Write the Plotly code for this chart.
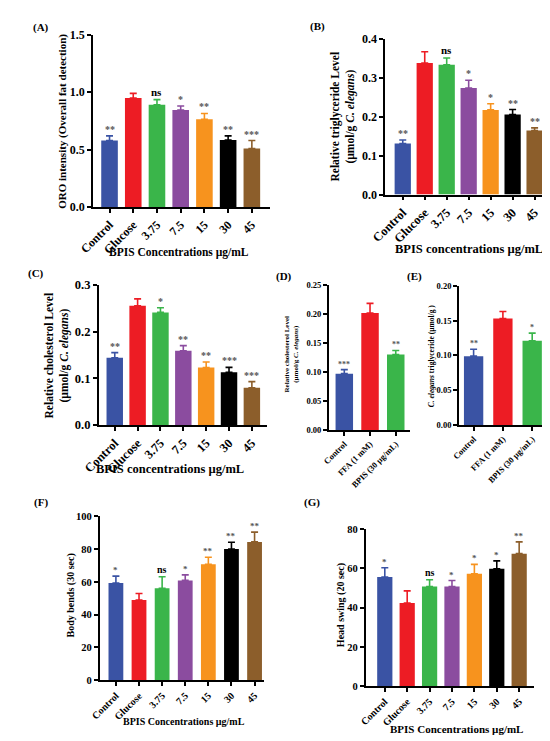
import plotly.graph_objects as go

# Data
cats7 = ["Control", "Glucose", "3.75", "7.5", "15", "30", "45"]
cats3 = ["Control", "FFA (1 mM)", "BPIS (30 µg/mL)"]
colors7 = ["#3a53a4", "#ed1c24", "#3ab54a", "#8b4c9f", "#f7931e", "#000000", "#8c5e2b"]
colors3 = ["#3a53a4", "#ed1c24", "#3ab54a"]

a_mean = [0.58, 0.95, 0.89, 0.845, 0.765, 0.585, 0.51]
a_err = [0.04, 0.04, 0.045, 0.035, 0.05, 0.035, 0.07]
a_sig = ["**", "", "ns", "*", "**", "**", "***"]

b_mean = [0.131, 0.337, 0.333, 0.273, 0.217, 0.205, 0.164]
b_err = [0.009, 0.029, 0.017, 0.02, 0.016, 0.013, 0.007]
b_sig = ["**", "", "ns", "*", "*", "**", "**"]

c_mean = [0.144, 0.255, 0.241, 0.159, 0.123, 0.113, 0.080]
c_err = [0.011, 0.015, 0.010, 0.011, 0.012, 0.0105, 0.013]
c_sig = ["**", "", "*", "**", "**", "***", "***"]

d_mean = [0.097, 0.2015, 0.130]
d_err = [0.007, 0.0165, 0.007]
d_sig = ["***", "", "**"]

e_mean = [0.099, 0.153, 0.121]
e_err = [0.010, 0.010, 0.011]
e_sig = ["**", "", "*"]

f_mean = [59.3, 48.9, 56.1, 60.9, 70.7, 80.0, 84.4]
f_err = [4.2, 4.0, 7.0, 3.4, 4.3, 4.2, 6.0]
f_sig = ["*", "", "ns", "*", "**", "**", "**"]

g_mean = [55.6, 42.3, 50.7, 50.7, 57.2, 59.8, 67.5]
g_err = [4.7, 6.2, 3.5, 3.1, 4.8, 4.0, 6.0]
g_sig = ["*", "", "ns", "*", "*", "*", "**"]

W, H = 550, 741
FONT = "Liberation Serif"


def px(x, y):
    return x / W, 1 - y / H


# panel setup: data, pixel box (x0, x1, ytop, ybottom), axis range etc.
panels = [
    dict(cats=cats7, mean=a_mean, err=a_err, sig=a_sig, colors=colors7,
         box=(71, 253, 20, 196), yr=[0, 1.5], dtick=0.5, fmt=".1f",
         xr=[-0.7, 6.75], bw=0.7, tfs=12, xfs=12, sfs=10),
    dict(cats=cats7, mean=b_mean, err=b_err, sig=b_sig, colors=colors7,
         box=(372, 544, 24, 183), yr=[0, 0.4], dtick=0.1, fmt=".1f",
         xr=[-0.8, 6.8], bw=0.74, tfs=12, xfs=12.5, sfs=10),
    dict(cats=cats7, mean=c_mean, err=c_err, sig=c_sig, colors=colors7,
         box=(77, 250, 275, 418), yr=[0, 0.3], dtick=0.1, fmt=".1f",
         xr=[-0.7, 6.65], bw=0.72, tfs=12.5, xfs=12.5, sfs=10),
    dict(cats=cats3, mean=d_mean, err=d_err, sig=d_sig, colors=colors3,
         box=(314, 398, 275, 423), yr=[0, 0.25], dtick=0.05, fmt=".2f",
         xr=[-0.6, 2.57], bw=0.68, tfs=8.5, xfs=8.5, sfs=8),
    dict(cats=cats3, mean=e_mean, err=e_err, sig=e_sig, colors=colors3,
         box=(448, 540, 276, 418), yr=[0, 0.2], dtick=0.05, fmt=".2f",
         xr=[-0.5, 2.55], bw=0.66, tfs=8.5, xfs=8.5, sfs=8),
    dict(cats=cats7, mean=f_mean, err=f_err, sig=f_sig, colors=colors7,
         box=(78, 247, 511, 678), yr=[0, 100], dtick=20, fmt="d",
         xr=[-0.7, 6.4], bw=0.64, tfs=10.5, xfs=10, sfs=9),
    dict(cats=cats7, mean=g_mean, err=g_err, sig=g_sig, colors=colors7,
         box=(352, 525, 524, 684), yr=[0, 80], dtick=20, fmt="d",
         xr=[-0.85, 6.65], bw=0.68, tfs=10.5, xfs=10, sfs=9),
]

fig = go.Figure()
annotations = []
layout_axes = {}

for i, p in enumerate(panels):
    n = i + 1
    xa = "x" if n == 1 else f"x{n}"
    ya = "y" if n == 1 else f"y{n}"
    x0, x1, yt, yb = p["box"]
    for cat, m, e, col in zip(p["cats"], p["mean"], p["err"], p["colors"]):
        fig.add_trace(go.Bar(
            x=[cat], y=[m], width=p["bw"], marker=dict(color=col, line=dict(width=0)),
            error_y=dict(type="data", array=[e], arrayminus=[0], symmetric=False,
                         color=col, thickness=1.6, width=3.5),
            xaxis=xa, yaxis=ya, showlegend=False, name=cat,
        ))
    # category index used for annotation position (numeric-looking names would be misread)
    for k, (m, e, s) in enumerate(zip(p["mean"], p["err"], p["sig"])):
        if not s:
            continue
        annotations.append(dict(
            x=k, y=m + e, xref=xa, yref=ya, text=s, showarrow=False,
            yanchor="bottom", yshift=-1 if s != "ns" else 0,
            font=dict(family=FONT, size=p["sfs"] + (1 if s == "ns" else 0),
                      color="#000" if s == "ns" else "#555", weight="bold"),
        ))
    xd = [x0 / W, x1 / W]
    yd = [1 - yb / H, 1 - yt / H]
    key = "" if n == 1 else str(n)
    layout_axes["xaxis" + key] = dict(
        domain=xd, anchor=ya, type="category", range=p["xr"],
        showline=True, linecolor="black", linewidth=1.6,
        ticks="outside", ticklen=4, tickwidth=1.5, tickcolor="black",
        tickangle=-45, showgrid=False, zeroline=False,
        tickfont=dict(family=FONT, size=p["xfs"], color="black", weight="bold"),
    )
    layout_axes["yaxis" + key] = dict(
        domain=yd, anchor=xa, range=p["yr"], dtick=p["dtick"], tick0=0,
        tickformat=p["fmt"], showline=True, linecolor="black", linewidth=1.6,
        ticks="outside", ticklen=4, tickwidth=1.5, tickcolor="black",
        showgrid=False, zeroline=False,
        tickfont=dict(family=FONT, size=p["tfs"], color="black", weight="bold"),
    )


def label(text, x, y, size, angle=0):
    ax, ay = px(x, y)
    annotations.append(dict(
        x=ax, y=ay, xref="paper", yref="paper", text=text, showarrow=False,
        textangle=angle, xanchor="center", yanchor="middle",
        font=dict(family=FONT, size=size, color="black", weight="bold"),
    ))


# panel letters
for t, x, y in [("(A)", 18, 13), ("(B)", 302, 12), ("(C)", 12, 263), ("(D)", 268, 267),
                ("(E)", 402, 267), ("(F)", 17, 497), ("(G)", 297, 497)]:
    label(t, x, y, 11)

# y-axis titles
label("ORO intensity (Overall fat detection)", 40, 108, 11, -90)
label("Relative triglyceride Level<br>(µmol/g <i>C. elegans</i>)", 329, 103, 11.5, -90)
label("Relative cholesterol Level<br>(µmol/g <i>C. elegans</i>)", 34, 347, 11.5, -90)
label("Relative cholesterol Level<br>(µmol/g <i>C. elegans</i>)", 275, 346, 7, -90)
label("<i>C. elegans</i> triglyceride (µmol/g )", 420, 347, 7.5, -90)
label("Body bends (30 sec)", 48, 592, 10, -90)
label("Head swing (20 sec)", 326, 602, 10, -90)

# x-axis titles
label("BPIS Concentrations µg/mL", 160, 242, 11.5)
label("BPIS concentrations µg/mL", 458, 239, 12.5)
label("BPIS concentrations µg/mL", 150, 463, 12.5)
label("BPIS Concentrations µg/mL", 165, 720, 10)
label("BPIS Concentrations µg/mL", 445, 728, 11)

fig.update_layout(
    width=W, height=H, margin=dict(l=0, r=0, t=0, b=0),
    paper_bgcolor="white", plot_bgcolor="white",
    barmode="overlay", showlegend=False,
    font=dict(family=FONT, color="black"),
    annotations=annotations,
    **layout_axes,
)

fig.write_html("out.html")
